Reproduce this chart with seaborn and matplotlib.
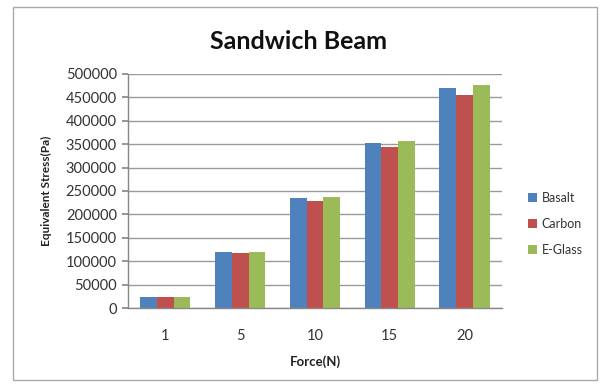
import matplotlib
matplotlib.use("Agg")
import matplotlib.pyplot as plt
import seaborn as sns
import pandas as pd
from matplotlib.patches import Rectangle

forces = ["1", "5", "10", "15", "20"]
basalt = [24000, 119000, 236000, 353000, 470000]
carbon = [23500, 117000, 229000, 343000, 456000]
eglass = [24000, 119000, 238000, 357000, 476000]
materials = ["Basalt", "Carbon", "E-Glass"]
colors = ["#4F81BD", "#C0504D", "#9BBB59"]

rows = []
for name, vals in zip(materials, [basalt, carbon, eglass]):
    for f, v in zip(forces, vals):
        rows.append({"Force": f, "Stress": v, "Material": name})
df = pd.DataFrame(rows)

sns.set_theme(style="white")
plt.rcParams["font.family"] = ["Lato", "DejaVu Sans"]

fig = plt.figure(figsize=(6.05, 3.87), dpi=100)
ax = fig.add_axes([0.2116, 0.204, 0.618, 0.605])

sns.barplot(data=df, x="Force", y="Stress", hue="Material", order=forces,
            hue_order=materials, palette=colors, width=0.67, ax=ax,
            saturation=1, edgecolor="none", legend=True)

ax.set_ylim(0, 500000)
ax.set_yticks(range(0, 500001, 50000))
ax.set_yticklabels([str(v) for v in range(0, 500001, 50000)], fontsize=10.5, color="#333333")
ax.tick_params(axis="x", labelsize=10.5, colors="#333333", length=0, pad=15)
ax.tick_params(axis="y", length=4, direction="out", left=True, color="#888888", pad=4)
ax.grid(axis="y", color="#9a9a9a", linewidth=1)
ax.set_axisbelow(True)
for s in ["top", "right"]:
    ax.spines[s].set_visible(False)
for s in ["left", "bottom"]:
    ax.spines[s].set_color("#888888")
    ax.spines[s].set_linewidth(1)

ax.set_xlabel("Force(N)", fontsize=9.5, fontweight="bold", color="#222222", labelpad=9)
ax.set_ylabel("Equivalent Stress(Pa)", fontsize=8.5, fontweight="bold", color="#222222", labelpad=10)
fig.text(0.494, 0.893, "Sandwich Beam", ha="center", va="center", fontsize=18,
         fontweight="bold", color="#111111")

leg = ax.legend(loc="center left", bbox_to_anchor=(1.04, 0.36), frameon=False,
                fontsize=9, handlelength=0.7, handleheight=0.7, labelspacing=1.1,
                handletextpad=0.4)
for t in leg.get_texts():
    t.set_color("#333333")

fig.patches.append(Rectangle((0.022, 0.018), 0.964, 0.964, transform=fig.transFigure,
                             fill=False, edgecolor="#aaaaaa", linewidth=1))

fig.savefig("out.png", dpi=100)
